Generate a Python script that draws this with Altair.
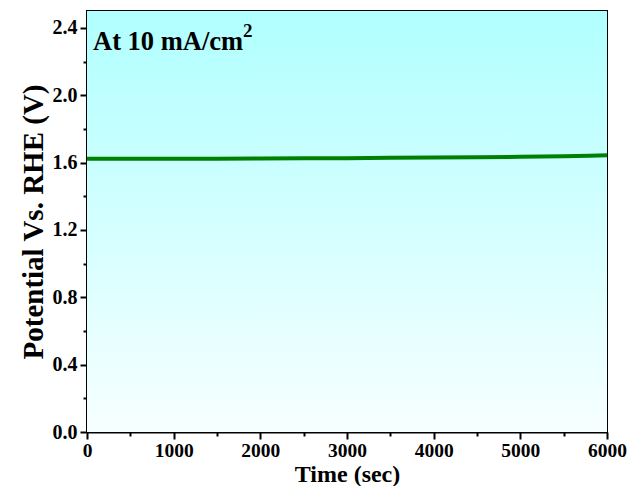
import altair as alt
import pandas as pd

# Data
time_s = [0, 500, 1000, 1500, 2000, 2500, 3000, 3500, 4000, 4500, 5000, 5500, 5800, 6000]
potential_v = [1.622, 1.622, 1.623, 1.623, 1.624, 1.625, 1.626, 1.628, 1.630, 1.632, 1.634, 1.637, 1.640, 1.644]

x_ticks = [v * 500 for v in range(13)]
y_ticks = [round(v * 0.2, 1) for v in range(13)]

W, H = 520, 421
FONT = "Liberation Serif"

df = pd.DataFrame({"t": time_s, "p": potential_v})

bg = alt.Chart(alt.Data(values=[{}])).mark_rect(
    color=alt.Gradient(
        gradient="linear",
        stops=[alt.GradientStop(color="#b0ffff", offset=0),
               alt.GradientStop(color="#f7ffff", offset=1)],
        x1=0, x2=0, y1=0, y2=1,
    )
).encode(x=alt.value(0), x2=alt.value(W), y=alt.value(0), y2=alt.value(H))

x_axis = alt.Axis(
    values=x_ticks,
    labelExpr="datum.value % 1000 == 0 ? datum.label : ''",
    tickSize={"condition": {"test": "datum.value % 1000 == 0", "value": 7}, "value": 4},
    format="d",
    grid=False, domainColor="black", domainWidth=2, tickColor="black", tickWidth=2,
    labelFont=FONT, labelFontWeight="bold", labelFontSize=19.5, labelColor="black",
    labelPadding=2, labelFlush=False,
    title="Time (sec)", titleFont=FONT, titleFontWeight="bold", titleFontSize=24,
    titleColor="black", titlePadding=3,
)
y_axis = alt.Axis(
    values=y_ticks,
    labelExpr="round(datum.value * 10) % 4 == 0 ? format(datum.value, '.1f') : ''",
    tickSize={"condition": {"test": "round(datum.value * 10) % 4 == 0", "value": 7}, "value": 4},
    grid=False, domainColor="black", domainWidth=2, tickColor="black", tickWidth=2,
    labelFont=FONT, labelFontWeight="bold", labelFontSize=20, labelColor="black",
    labelPadding=3, labelFlush=False,
    title="Potential Vs. RHE (V)", titleFont=FONT, titleFontWeight="bold", titleFontSize=29,
    titleColor="black", titlePadding=4,
)

line = alt.Chart(df).mark_line(color="#008000", strokeWidth=4).encode(
    x=alt.X("t:Q", scale=alt.Scale(domain=[0, 6000], nice=False), axis=x_axis),
    y=alt.Y("p:Q", scale=alt.Scale(domain=[0, 2.5], nice=False), axis=y_axis),
)

label = alt.Chart(alt.Data(values=[{}])).mark_text(
    text="At 10 mA/cm", font=FONT, fontWeight="bold", fontSize=26.5, color="black",
    align="left", baseline="alphabetic",
).encode(x=alt.value(6), y=alt.value(39))

sup = alt.Chart(alt.Data(values=[{}])).mark_text(
    text="2", font=FONT, fontWeight="bold", fontSize=19, color="black",
    align="left", baseline="alphabetic",
).encode(x=alt.value(156), y=alt.value(26))

chart = alt.layer(bg, line, label, sup).properties(
    width=W, height=H,
    padding={"left": 79, "top": 3, "right": 20, "bottom": 54},
    autosize=alt.AutoSizeParams(type="none"),
).configure_view(stroke="black", strokeWidth=2)

chart.save("out.html", embed_options={"renderer": "svg", "actions": False})
